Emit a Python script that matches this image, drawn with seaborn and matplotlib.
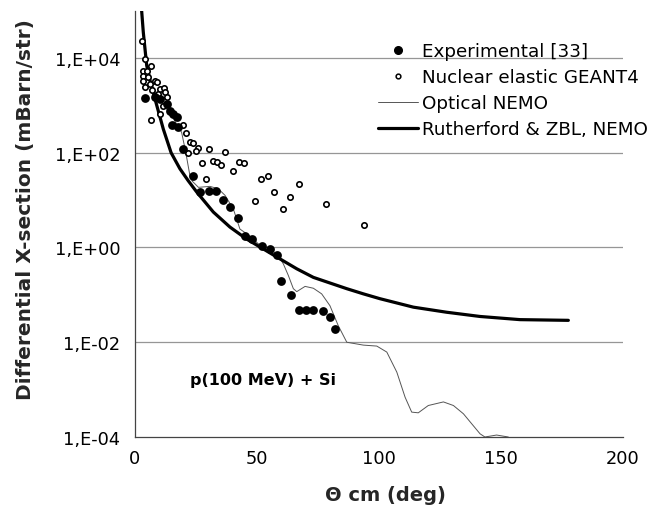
import numpy as np
import pandas as pd
import matplotlib
matplotlib.use("Agg")
import matplotlib.pyplot as plt
import seaborn as sns
from matplotlib.lines import Line2D

# --- data -------------------------------------------------------------
exp_theta = [4.0, 8.2, 10.2, 13.0, 14.3, 15.7, 17.2, 15.0, 17.7, 19.8, 23.6,
             26.6, 30.3, 33.2, 36.2, 39.1, 42.1, 45.0, 48.1, 52.2, 55.2, 58.1,
             59.8, 64.1, 67.1, 70.1, 73.0, 77.2, 80.0, 82.0]
exp_xs = [1450, 1500, 1360, 1070, 770, 660, 570, 385, 350, 118, 32,
          14.7, 15.9, 15.9, 10.3, 7.2, 4.1, 1.73, 1.54, 1.06, 0.95, 0.70,
          0.20, 0.099, 0.048, 0.048, 0.048, 0.045, 0.034, 0.019]

g4_theta = [2.75, 4.1, 3.4, 4.8, 6.4, 3.4, 5.45, 3.4, 4.1, 6.1, 8.2, 8.9, 6.8,
            10.2, 12.0, 12.3, 13.0, 9.5, 6.4, 10.2, 11.6, 19.5, 20.9, 22.5,
            23.9, 25.9, 21.8, 25.0, 30.3, 36.9, 27.3, 31.8, 33.5, 35.1, 40.3,
            42.7, 44.7, 29.1, 51.6, 54.6, 67.2, 57.0, 63.5, 49.3, 60.5, 78.4,
            94.0]
g4_xs = [22400, 9500, 5400, 5400, 6700, 4200, 3900, 3300, 2500, 2800, 3300,
         3100, 2140, 2200, 2300, 1890, 1480, 1740, 500, 660, 980, 385, 257,
         165, 161, 128, 98, 111, 120, 105, 60, 68, 63, 56, 42, 65, 61, 27.5,
         27.5, 32, 22.3, 14.7, 11.9, 9.5, 6.6, 8.3, 3.0]

opt_theta = [2.6, 3.4, 4.1, 4.8, 6.0, 8.0, 10.0, 12.0, 14.0, 16.0, 17.5, 19.1,
             20.8, 22.5, 23.5, 26.0, 30.7, 34.1, 36.9, 40.3, 43.0, 47.1, 50.5,
             55.3, 58.7, 60.8, 62.8, 64.9, 66.3, 69.7, 73.1, 76.5, 79.9, 83.3,
             86.8, 93.6, 99.1, 103.2, 107.3, 110.7, 113.4, 116.1, 120.2, 126.4,
             130.5, 134.6, 138.0, 141.4, 143.4, 148.2, 153.0]
opt_xs = [1.2e5, 3.5e4, 1.55e4, 7.2e3, 3.5e3, 2.0e3, 1.4e3, 1.0e3, 700, 500,
          370, 270, 102, 33, 25, 18.6, 19.5, 17.4, 12.6, 6.5, 2.45, 1.74, 1.2,
          0.93, 0.68, 0.45, 0.26, 0.135, 0.117, 0.151, 0.138, 0.105, 0.059,
          0.0224, 0.0100, 0.0087, 0.0083, 0.0062, 0.00234, 0.00069, 0.000335,
          0.000324, 0.000462, 0.00055, 0.000462, 0.000309, 0.00019, 0.000117,
          0.0001, 0.00011, 0.0001]

ruth_theta = [2.6, 3.4, 4.1, 4.8, 6.2, 8.2, 11.6, 14.8, 18.4, 21.8, 25.3, 32.1,
              38.9, 45.8, 52.6, 59.4, 66.3, 73.1, 79.9, 86.8, 93.6, 100.4,
              114.1, 127.7, 141.4, 157.8, 177.6]
ruth_xs = [1.2e5, 3.5e4, 1.55e4, 6.9e3, 3.3e3, 1.36e3, 316, 100, 46, 25.7,
           14.8, 5.6, 2.7, 1.5, 0.93, 0.575, 0.355, 0.234, 0.178, 0.135, 0.105,
           0.083, 0.055, 0.043, 0.035, 0.030, 0.029]

y_ticks = [1e-4, 1e-2, 1e0, 1e2, 1e4]
y_tick_labels = ["1,E-04", "1,E-02", "1,E+00", "1,E+02", "1,E+04"]
x_ticks = [0, 50, 100, 150, 200]

series_labels = ["Experimental [33]", "Nuclear elastic GEANT4",
                 "Optical NEMO", "Rutherford & ZBL, NEMO"]

# --- figure -----------------------------------------------------------
sns.set_style("white")
plt.rcParams["font.family"] = ["DejaVu Sans"]
plt.rcParams["text.color"] = "black"

W, H = 654, 510
fig = plt.figure(figsize=(W / 100, H / 100), dpi=100)
ax_l, ax_r, ax_t, ax_b = 135, 623, 11.6, 438
ax = fig.add_axes([ax_l / W, 1 - ax_b / H, (ax_r - ax_l) / W,
                   (ax_b - ax_t) / H])

df_exp = pd.DataFrame({"theta": exp_theta, "xs": exp_xs})
df_g4 = pd.DataFrame({"theta": g4_theta, "xs": g4_xs})
df_opt = pd.DataFrame({"theta": opt_theta, "xs": opt_xs})
df_ruth = pd.DataFrame({"theta": ruth_theta, "xs": ruth_xs})

ax.set_yscale("log")
for yv in y_ticks[1:]:
    ax.axhline(yv, color="#969696", lw=0.9, zorder=0)

sns.lineplot(data=df_opt, x="theta", y="xs", ax=ax, color="#555555",
             lw=0.7, estimator=None, sort=False, zorder=2)
sns.lineplot(data=df_ruth, x="theta", y="xs", ax=ax, color="black",
             lw=2.3, estimator=None, sort=False, zorder=3)
sns.scatterplot(data=df_g4, x="theta", y="xs", ax=ax, marker="o",
                s=15, facecolor="white", edgecolor="black", linewidth=1.2,
                zorder=4)
sns.scatterplot(data=df_exp, x="theta", y="xs", ax=ax, marker="o",
                s=40, color="black", edgecolor="black", linewidth=0,
                zorder=5)

ax.set_xlim(0, 200)
ax.set_ylim(1e-4, 1e5)
ax.set_yticks(y_ticks)
ax.set_yticklabels(y_tick_labels)
ax.yaxis.set_minor_locator(matplotlib.ticker.NullLocator())
ax.set_xticks(x_ticks)
ax.set_xticks(np.arange(0, 201, 10), minor=True)

for s in ["top", "right"]:
    ax.spines[s].set_visible(False)
for s in ["left", "bottom"]:
    ax.spines[s].set_color("#444444")
    ax.spines[s].set_linewidth(0.9)

ax.tick_params(axis="both", which="major", direction="inout", length=9,
               width=0.8, color="#444444", labelsize=12.8, labelcolor="black")
ax.tick_params(axis="x", which="major", pad=4)
ax.tick_params(axis="y", which="major", pad=6)
ax.tick_params(axis="x", which="minor", direction="inout", length=5,
               width=0.7, color="#444444")
ax.tick_params(axis="y", which="minor", length=0)

ax.set_xlabel("\u0398 cm (deg)", fontsize=14, fontweight="bold",
              va="center")
ax.xaxis.set_label_coords((385 - ax_l) / (ax_r - ax_l),
                          (ax_b - 496) / (ax_b - ax_t))
ax.set_ylabel("Differential X-section (mBarn/str)", fontsize=14.5,
              fontweight="bold", va="center")
ax.yaxis.set_label_coords((26 - ax_l) / (ax_r - ax_l),
                          (ax_b - 210) / (ax_b - ax_t))

ax.text(22.5, 10 ** -2.79, "p(100 MeV) + Si", fontsize=11.5,
        fontweight="bold", va="center", ha="left")

handles = [
    Line2D([], [], ls="none", marker="o", ms=5.5, color="black"),
    Line2D([], [], ls="none", marker="o", ms=3.4, mfc="white", mec="black",
           mew=1.1),
    Line2D([], [], color="#555555", lw=0.7),
    Line2D([], [], color="black", lw=2.3),
]
ax.legend(handles, series_labels, loc="upper left",
          bbox_to_anchor=(378 / W, 1 - 43 / H),
          bbox_transform=fig.transFigure, frameon=False, fontsize=13.2,
          borderpad=0, borderaxespad=0, handlelength=2.2, handletextpad=0.2,
          labelspacing=0.44)

fig.savefig("out.png", dpi=100)
